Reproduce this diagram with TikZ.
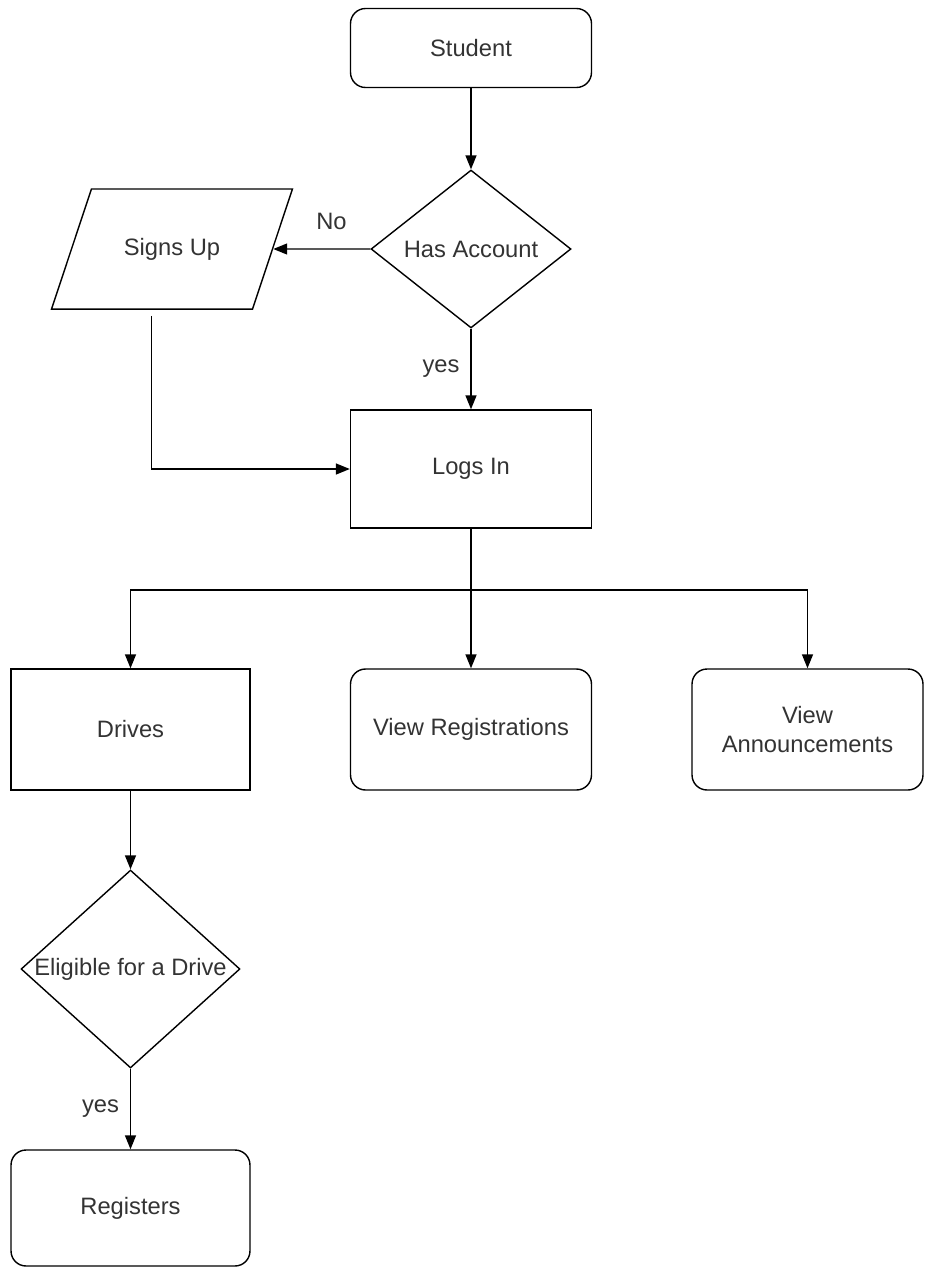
\documentclass[tikz,border=0pt]{standalone}
\usepackage{fontspec}
\setmainfont{Liberation Sans}
\usetikzlibrary{shapes.geometric,arrows.meta,calc}

\begin{document}
\begin{tikzpicture}[x=0.02cm, y=-0.02cm,
        every node/.style={font=\fontsize{13.5}{16}\selectfont, text=black!80},
        box/.style={draw, line width=0.8pt, minimum width=4.82cm, minimum height=2.4cm},
        roundbox/.style={box, rounded corners=0.3cm},
        decision/.style={draw, diamond, line width=0.8pt, inner sep=0pt},
        flow/.style={-{Triangle[length=0.28cm, width=0.22cm]}, line width=0.8pt}]
    \useasboundingbox (0,0) rectangle (924,1268);
    % top part
    \node[roundbox, minimum height=1.58cm] (student) at (471,48) {Student};
    \node[decision, minimum width=4cm, minimum height=3.16cm] (account) at (471,249) {\makebox[0pt]{Has Account}};
    \node[draw, trapezium, trapezium left angle=71.6, trapezium right angle=108.4, trapezium stretches body,
          line width=0.8pt, minimum width=4.82cm, inner ysep=0.98cm] (signs) at (172,249) {Signs Up};
    \node[box, minimum height=2.36cm] (logs) at (471,469) {Logs In};
    \draw[flow] (student) -- (account);
    \draw[flow] (account) -- (signs) node[pos=0.4, above=0.25cm] (no) {No};
    \draw[flow] (account) -- (logs) node[midway, left=0.1cm] (yes1) {yes};
    \draw[flow] ($(signs.bottom left corner)!0.5!(signs.bottom right corner) + (0,6)$) |- (logs.west);
    % three choices
    \node[box, minimum width=4.78cm, minimum height=2.42cm] (drives) at (130.5,729.5) {Drives};
    \node[roundbox, minimum height=2.42cm] (viewreg) at (471,729.5) {View Registrations};
    \node[roundbox, minimum width=4.62cm, minimum height=2.42cm, align=center] (viewann) at (807.5,729.5) {View\\Announcements};
    \coordinate (split) at (471,590);
    \draw[line width=0.8pt] (logs) -- (split);
    \draw[flow] (split) -| (drives);
    \draw[flow] (split) -- (viewreg);
    \draw[flow] (split) -| (viewann);
    % drives branch
    \node[decision, minimum width=4.38cm, minimum height=3.96cm] (eligible) at (130.5,969) {\makebox[0pt]{Eligible for a Drive}};
    \node[roundbox, minimum width=4.78cm, minimum height=2.32cm] (registers) at (130.5,1208) {Registers};
    \draw[flow] (drives) -- (eligible);
    \draw[flow] (eligible) -- (registers) node[midway, left=0.1cm] (yes2) {yes};
\end{tikzpicture}
\end{document}
